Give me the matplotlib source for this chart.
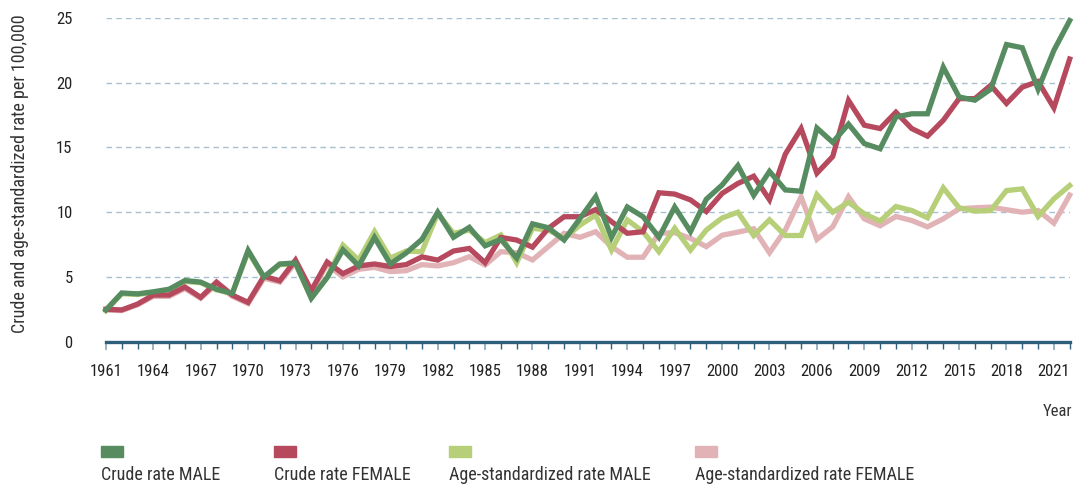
import numpy as np
import matplotlib
matplotlib.use('Agg')
import matplotlib.pyplot as plt
from matplotlib import font_manager
from matplotlib.patches import Rectangle
from matplotlib.ticker import MultipleLocator, FixedLocator

years = np.arange(1961, 2023)

crude_male = [2.45, 3.76, 3.69, 3.85, 4.05, 4.72, 4.6, 4.05, 3.73, 7.05,
              5.0, 6.0, 6.08, 3.35, 4.95, 7.1, 5.85, 8.05, 6.0, 6.85,
              7.9, 10.0, 8.06, 8.83, 7.4, 7.9, 6.45, 9.1, 8.8, 7.85,
              9.5, 11.2, 8.06, 10.4, 9.65, 8.06, 10.4, 8.5, 11.0, 12.1,
              13.6, 11.3, 13.15, 11.72, 11.62, 16.5, 15.4, 16.8, 15.3, 14.9,
              17.35, 17.6, 17.6, 21.2, 18.9, 18.65, 19.5, 22.95, 22.7, 19.5,
              22.5, 24.8]
crude_female = [2.5, 2.45, 2.9, 3.6, 3.6, 4.22, 3.42, 4.6, 3.6, 3.03,
                5.05, 4.7, 6.3, 3.95, 6.15, 5.25, 5.85, 6.0, 5.8, 5.95,
                6.55, 6.3, 7.0, 7.2, 6.1, 8.05, 7.85, 7.3, 8.75, 9.65,
                9.65, 10.2, 9.27, 8.37, 8.49, 11.5, 11.4, 10.95, 10.05, 11.45,
                12.22, 12.78, 10.96, 14.48, 16.46, 13.01, 14.3, 18.63, 16.72, 16.46,
                17.72, 16.46, 15.87, 17.1, 18.77, 18.77, 19.8, 18.4, 19.66, 20.1,
                18.06, 21.83]
asr_male = [2.4, 3.7, 3.65, 3.8, 4.0, 4.65, 4.55, 4.0, 3.7, 6.95,
            4.95, 5.95, 6.0, 3.4, 4.95, 7.45, 6.3, 8.5, 6.45, 7.0,
            6.95, 9.9, 8.37, 8.62, 7.65, 8.24, 6.1, 8.76, 8.62, 7.98,
            9.0, 9.78, 7.08, 9.4, 8.49, 6.95, 8.76, 7.08, 8.62, 9.55,
            10.0, 8.2, 9.41, 8.2, 8.2, 11.36, 10.0, 10.77, 9.88, 9.31,
            10.44, 10.13, 9.57, 11.88, 10.34, 10.08, 10.13, 11.67, 11.8, 9.67,
            11.03, 12.06]
asr_female = [2.45, 2.4, 2.85, 3.5, 3.5, 4.1, 3.35, 4.45, 3.5, 2.95,
              4.9, 4.6, 6.1, 3.85, 5.95, 5.0, 5.59, 5.74, 5.41, 5.48,
              5.95, 5.85, 6.1, 6.56, 5.92, 6.95, 6.87, 6.31, 7.34, 8.37,
              8.06, 8.49, 7.34, 6.52, 6.52, 8.37, 8.42, 7.98, 7.34, 8.22,
              8.46, 8.72, 6.87, 8.62, 11.19, 7.9, 8.87, 11.19, 9.49, 8.95,
              9.67, 9.36, 8.87, 9.49, 10.26, 10.34, 10.39, 10.19, 10.0, 10.13,
              9.15, 11.32]

series = [
    ('Age-standardized rate FEMALE', asr_female, '#e2b3b6'),
    ('Age-standardized rate MALE', asr_male, '#b6cf78'),
    ('Crude rate FEMALE', crude_female, '#b6495d'),
    ('Crude rate MALE', crude_male, '#568c60'),
]

# pick a narrow font if one is around, the original uses a condensed face
fonts = font_manager.fontManager.ttflist
names = {f.name for f in fonts}
narrow = None
for cand in ['Liberation Sans Narrow', 'Roboto Condensed', 'Open Sans Condensed',
             'DejaVu Sans Condensed', 'Noto Sans Condensed']:
    if cand in names:
        narrow = cand
        break
scale = 1.0
if narrow:
    plt.rcParams['font.family'] = [narrow, 'DejaVu Sans']
elif any(f.name == 'DejaVu Sans' and f.stretch == 'condensed' for f in fonts):
    plt.rcParams['font.family'] = ['DejaVu Sans']
    plt.rcParams['font.stretch'] = 'condensed'
    scale = 0.92
else:
    plt.rcParams['font.family'] = ['DejaVu Sans']
    scale = 0.8

fig = plt.figure(figsize=(10.84, 4.86), dpi=100)
ax = fig.add_axes([0.0977, 0.297, 0.8891, 0.666])

for label, vals, col in series:
    ax.plot(years, vals, color=col, linewidth=3.8, solid_joinstyle='miter',
            clip_on=False, zorder=3)

ax.set_xlim(1961, 2022)
ax.set_ylim(0, 25)

for s in ['top', 'right', 'left']:
    ax.spines[s].set_visible(False)
ax.spines['bottom'].set_color('#2e5f7a')
ax.spines['bottom'].set_linewidth(2.4)
ax.spines['bottom'].set_zorder(4)

ax.set_yticks([0, 5, 10, 15, 20, 25])
ax.yaxis.grid(True, linestyle=(0, (4, 3)), color='#a8bfcf', linewidth=1)
ax.set_axisbelow(True)
ax.tick_params(axis='y', length=0, pad=24, labelsize=12 * scale, labelcolor='#222222')

ax.xaxis.set_major_locator(FixedLocator(list(range(1961, 2022, 3))))
ax.xaxis.set_minor_locator(MultipleLocator(1))
ax.tick_params(axis='x', which='major', length=6, width=1.2, color='#8aa5b8',
               pad=10, labelsize=12 * scale, labelcolor='#222222')
ax.tick_params(axis='x', which='minor', length=5, width=1, color='#2e5f7a')

ax.set_ylabel('Crude and age-standardized rate per 100,000', fontsize=13 * scale,
              color='#333333')
ax.yaxis.set_label_coords(-0.08, 0.52)

fig.text(0.989, 0.154, 'Year', ha='right', va='center', fontsize=12 * scale,
         color='#333333')

legend_items = [
    ('Crude rate MALE', '#568c60', 101),
    ('Crude rate FEMALE', '#b6495d', 274),
    ('Age-standardized rate MALE', '#b6cf78', 449),
    ('Age-standardized rate FEMALE', '#e2b3b6', 695),
]
W, H = 1084, 486
for text, col, px in legend_items:
    fig.patches.append(Rectangle((px / W, 1 - 457 / H), 22 / W, 11 / H,
                                 transform=fig.transFigure, color=col))
    fig.text(px / W, 1 - 475 / H, text, ha='left', va='center', fontsize=13 * scale,
             color='#333333')

fig.savefig('out.png', dpi=100)
